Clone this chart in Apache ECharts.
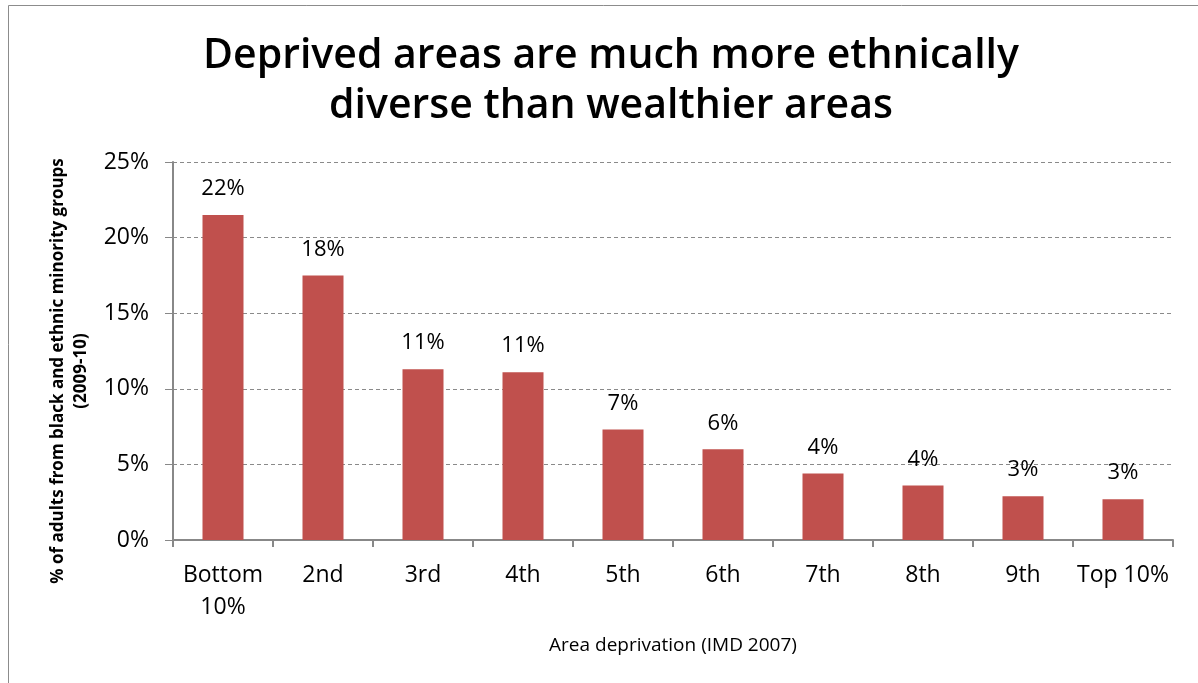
<!DOCTYPE html>
<html>
<head>
<meta charset="utf-8">
<script src="https://cdn.jsdelivr.net/npm/echarts@6/dist/echarts.min.js"></script>
<style>
  html, body { margin: 0; padding: 0; background: #ffffff; }
  #chart { width: 1198px; height: 683px; }
</style>
</head>
<body>
<div id="chart"></div>
<script>
// Deprivation deciles (IMD 2007)
const categories = ['Bottom\n10%', '2nd', '3rd', '4th', '5th', '6th', '7th', '8th', '9th', 'Top 10%'];
// Share of adults from black and ethnic minority groups, percent (2009-10)
const bmeShare = [21.5, 17.5, 11.3, 11.1, 7.3, 6.0, 4.4, 3.6, 2.9, 2.7];
const yTicks = [0, 5, 10, 15, 20, 25];

const font = '"Open Sans", "Liberation Sans", sans-serif';

const chart = echarts.init(document.getElementById('chart'), null, { renderer: 'canvas' });

chart.setOption({
  backgroundColor: '#ffffff',
  animation: false,
  title: {
    text: 'Deprived areas are much more ethnically\ndiverse than wealthier areas',
    left: 606,
    textAlign: 'center',
    top: 26,
    textStyle: {
      fontFamily: font,
      fontSize: 41,
      fontWeight: 600,
      lineHeight: 50,
      color: '#000000'
    }
  },
  graphic: [{
    type: 'rect',
    shape: { x: 8.5, y: 5.5, width: 1200, height: 700 },
    style: { fill: 'none', stroke: '#8c8c8c', lineWidth: 1 },
    silent: true
  }],
  grid: { left: 173, right: 25, top: 162, bottom: 143 },
  xAxis: {
    type: 'category',
    data: categories,
    name: 'Area deprivation (IMD 2007)',
    nameLocation: 'middle',
    nameGap: 96,
    nameTextStyle: { fontFamily: font, fontSize: 19, color: '#000000' },
    axisLine: { lineStyle: { color: '#888888', width: 2 } },
    axisTick: { show: true, length: 7, lineStyle: { color: '#888888', width: 2 } },
    axisLabel: {
      fontFamily: font, fontSize: 23, color: '#000000',
      margin: 19, lineHeight: 32, interval: 0
    }
  },
  yAxis: {
    type: 'value',
    min: yTicks[0],
    max: yTicks[yTicks.length - 1],
    interval: 5,
    name: '% of adults from black and ethnic minority groups\n(2009-10)',
    nameLocation: 'middle',
    nameGap: 77,
    nameTextStyle: {
      fontFamily: font, fontSize: 17, fontWeight: 'bold', color: '#000000',
      lineHeight: 23, padding: [0, 0, 0, -40]
    },
    axisLine: { show: true, lineStyle: { color: '#888888', width: 2 } },
    axisTick: { show: true, length: 8, lineStyle: { color: '#888888', width: 1 } },
    axisLabel: {
      fontFamily: font, fontSize: 23, color: '#000000', margin: 24,
      formatter: v => v + '%'
    },
    splitLine: { lineStyle: { color: '#8a8a8a', type: [4, 3], width: 1 } }
  },
  series: [{
    type: 'bar',
    data: bmeShare,
    barWidth: 41,
    itemStyle: { color: '#C0504D' },
    label: {
      show: true,
      position: 'top',
      distance: 15,
      fontFamily: font,
      fontSize: 22,
      color: '#000000',
      formatter: p => Math.round(p.value) + '%'
    }
  }]
});
</script>
</body>
</html>
